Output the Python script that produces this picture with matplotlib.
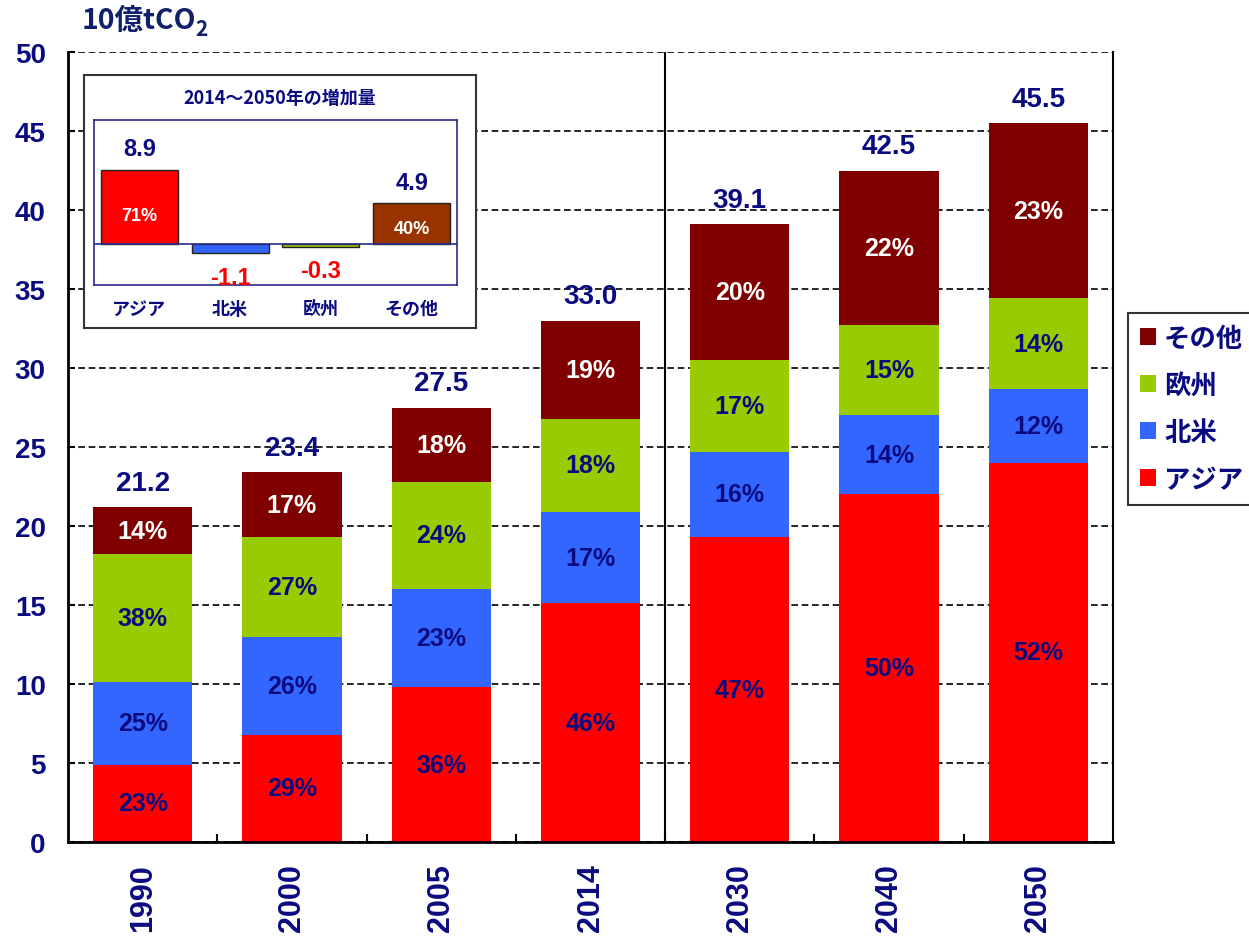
import matplotlib
matplotlib.use('Agg')
import matplotlib.pyplot as plt
import numpy as np
from matplotlib.patches import Patch

plt.rcParams['font.family'] = ['Liberation Sans', 'Noto Sans CJK JP', 'DejaVu Sans']
plt.rcParams['font.weight'] = 'bold'

NAVY = '#0b0b80'
JP = ['Noto Sans CJK JP', 'DejaVu Sans']

# CO2 emissions by region (billion tCO2)
years = ['1990', '2000', '2005', '2014', '2030', '2040', '2050']
asia = [4.9, 6.8, 9.8, 15.1, 19.3, 22.0, 24.0]
north_america = [5.2, 6.2, 6.2, 5.8, 5.4, 5.0, 4.7]
europe = [8.1, 6.3, 6.8, 5.9, 5.8, 5.7, 5.7]
other = [3.0, 4.1, 4.7, 6.2, 8.6, 9.8, 11.1]

# shares printed inside the segments (%)
asia_pct = [23, 29, 36, 46, 47, 50, 52]
north_america_pct = [25, 26, 23, 17, 16, 14, 12]
europe_pct = [38, 27, 24, 18, 17, 15, 14]
other_pct = [14, 17, 18, 19, 20, 22, 23]

# increase 2014 -> 2050
inc_regions = ['アジア', '北米', '欧州', 'その他']
inc_values = [8.9, -1.1, -0.3, 4.9]
inc_share = ['71%', '', '', '40%']

regions = ['アジア', '北米', '欧州', 'その他']
colors = ['#ff0000', '#3366ff', '#99cc00', '#800000']
inc_colors = ['#ff0000', '#3366ff', '#99cc00', '#993300']

fig = plt.figure(figsize=(12.49, 9.37), dpi=100)
W, H = 1249, 937
ax = fig.add_axes([68 / W, 1 - 843 / H, 1045 / W, 790 / H])

x = np.arange(len(years))
series = [asia, north_america, europe, other]
pcts = [asia_pct, north_america_pct, europe_pct, other_pct]
text_cols = [NAVY, NAVY, NAVY, 'white']
bottom = np.zeros(len(years))
for vals, pc, col, tc in zip(series, pcts, colors, text_cols):
    vals = np.array(vals)
    ax.bar(x, vals, 0.665, bottom=bottom, color=col, edgecolor='none', zorder=2)
    for xi, b, v, p in zip(x, bottom, vals, pc):
        ax.text(xi, b + v / 2, f'{p}%', ha='center', va='center',
                fontsize=18, color=tc, fontweight='bold', zorder=3)
    bottom = bottom + vals

for xi, t in zip(x, bottom):
    ax.annotate(f'{t:.1f}', (xi, t), xytext=(0, 8), textcoords='offset points',
                ha='center', va='bottom', fontsize=20, color=NAVY, fontweight='bold')

ax.set_xlim(-0.5, 6.5)
ax.set_ylim(0, 50)
ax.set_yticks(np.arange(0, 51, 5))
ax.yaxis.grid(True, color='black', linestyle=(0, (4, 2.2)), linewidth=1.2)
ax.set_axisbelow(True)
ax.axvline(3.5, color='black', linewidth=1.5, zorder=1)

ax.spines['top'].set_visible(False)
for s in ['left', 'bottom']:
    ax.spines[s].set_linewidth(2)
ax.spines['right'].set_linewidth(1.5)

ax.set_xticks(x)
ax.set_xticklabels(years, rotation=90, fontsize=22, color=NAVY, fontweight='bold')
ax.set_xticks(np.arange(0.5, 6, 1), minor=True)
ax.tick_params(axis='x', which='major', length=0, pad=15)
ax.tick_params(axis='x', which='minor', direction='in', length=6, width=1.5)
ax.tick_params(axis='y', direction='in', length=5, width=1.5, pad=16,
               labelsize=20, labelcolor=NAVY)
for lbl in ax.get_yticklabels():
    lbl.set_fontweight('bold')

# unit label
TITLE_C = '#10206a'
unit = fig.text(82 / W, 1 - 21 / H, '10億tCO', fontsize=20.5, color=TITLE_C,
                fontweight='bold', ha='left', va='center', family=JP)
fig.canvas.draw()
bb = unit.get_window_extent()
fig.text(bb.x1 / W - 0.001, 1 - 30 / H, '2', fontsize=15, color=TITLE_C,
         fontweight='bold', ha='left', va='center', family=JP)

# legend
handles = [Patch(facecolor=c, edgecolor='none') for c in colors]
leg = fig.legend(handles[::-1], regions[::-1], loc='upper left',
                 bbox_to_anchor=(1128 / W, 1 - 314 / H), frameon=True,
                 fancybox=False, handlelength=0.62, handleheight=0.62,
                 handletextpad=0.3, labelspacing=0.76, borderpad=0.45,
                 borderaxespad=0, prop={'family': JP, 'weight': 'bold', 'size': 19})
leg.get_frame().set_edgecolor('black')
leg.get_frame().set_linewidth(1.5)
for t in leg.get_texts():
    t.set_color(NAVY)

# inset: increase 2014-2050
box = fig.add_axes([84 / W, 1 - 329 / H, 392 / W, 253 / H])
box.set_xticks([])
box.set_yticks([])
box.set_facecolor('white')
for s in box.spines.values():
    s.set_edgecolor('#333333')
    s.set_linewidth(1.5)
box.text(0.5, 1 - 23 / 253, '2014～2050年の増加量', transform=box.transAxes,
         ha='center', va='center', fontsize=13, color=NAVY, fontweight='bold',
         family=JP)

inset = fig.add_axes([94 / W, 1 - 286 / H, 363 / W, 165 / H])
xi = np.arange(len(inc_regions))
inset.bar(xi, inc_values, 0.85, color=inc_colors, edgecolor='#222222', linewidth=1)
inset.axhline(0, color='#2a2a8a', linewidth=1.2)
inset.set_xlim(-0.5, 3.5)
inset.set_ylim(-4.93, 14.92)
inset.set_yticks([])
inset.set_xticks(xi)
inset.set_xticklabels(inc_regions, fontsize=13, color=NAVY, fontweight='bold',
                      family=JP)
inset.tick_params(axis='x', length=0, pad=10)
for s in inset.spines.values():
    s.set_edgecolor('#2a2a8a')
    s.set_linewidth(1.2)
for k, (v, sh) in enumerate(zip(inc_values, inc_share)):
    if v >= 0:
        inset.annotate(f'{v:.1f}', (k, v), xytext=(0, 7), textcoords='offset points',
                       ha='center', va='bottom', fontsize=17, color=NAVY,
                       fontweight='bold')
        inset.text(k, v * 0.38, sh, ha='center', va='center', fontsize=13,
                   color='white', fontweight='bold')
    else:
        inset.annotate(f'{v:.1f}', (k, v), xytext=(0, -9), textcoords='offset points',
                       ha='center', va='top', fontsize=17, color='#ff0000',
                       fontweight='bold')

fig.savefig('out.png', dpi=100)
